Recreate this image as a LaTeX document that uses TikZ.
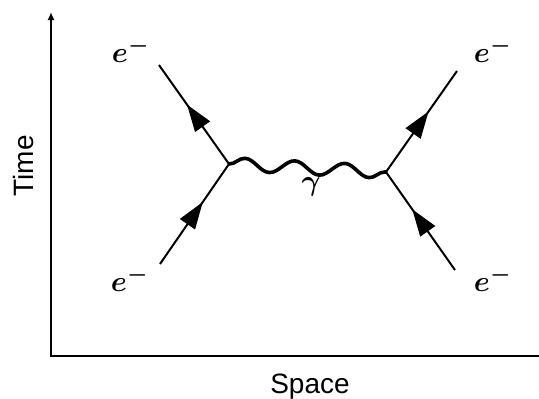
\documentclass[tikz,border=0pt]{standalone}
\usepackage{fontspec}
\setmainfont{Liberation Sans}
\usetikzlibrary{arrows.meta, decorations.markings, decorations.pathmorphing}
\tikzset{
    fermion/.style={line width=2pt, postaction={decorate},
        decoration={markings, mark=at position #1 with {\arrow{Triangle[length=27pt,width=18pt]}}}},
    photon/.style={line width=3.6pt, decorate,
        decoration={snake, amplitude=6.5pt, segment length=50pt}},
    elabel/.style={scale=2.9, font=\boldmath},
    axislabel/.style={font=\fontsize{28}{32}\selectfont, anchor=base},
}

\begin{document}
\begin{tikzpicture}[x=1pt, y=-1pt]
    \useasboundingbox (0,0) rectangle (539,399);

    % axes
    \coordinate (ytip) at (51,12);
    \coordinate (origin) at (51,356);
    \coordinate (xend) at (539,356);
    \draw[{Latex[length=8pt,width=7pt]}-, line width=2.4pt] (ytip) -- (origin) -- (xend);
    \node[axislabel, rotate=90] (time) at (33,166) {Time};
    \node[axislabel] (space) at (310,393) {Space};

    % vertices and outer ends
    \coordinate (vL) at (229,164);
    \coordinate (vR) at (386,172);
    \coordinate (tl) at (159,65);
    \coordinate (bl) at (160,264);
    \coordinate (tr) at (457,71);
    \coordinate (br) at (455,270);

    % electron lines
    \draw[fermion=0.62] (bl) -- (vL);
    \draw[fermion=0.6] (vL) -- (tl);
    \draw[fermion=0.62] (br) -- (vR);
    \draw[fermion=0.6] (vR) -- (tr);

    % photon
    \draw[photon] (vL) -- (vR);
    \node[elabel] (gamma) at (311,187) {$\gamma$};

    % labels
    \node[elabel] (etl) at (131,50) {$e^-$};
    \node[elabel] (etr) at (493,50) {$e^-$};
    \node[elabel] (ebl) at (130,279) {$e^-$};
    \node[elabel] (ebr) at (493,279) {$e^-$};
\end{tikzpicture}
\end{document}
